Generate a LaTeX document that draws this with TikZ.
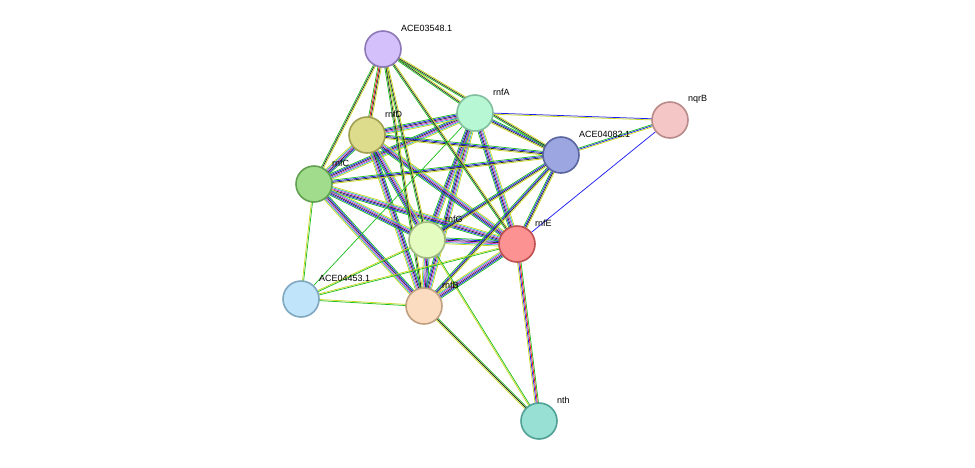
\documentclass[tikz,border=0pt]{standalone}
\usepackage{fontspec}
\setmainfont{Liberation Sans}
\usetikzlibrary{calc}
\pgfdeclarelayer{bg}\pgfsetlayers{bg,main}
\definecolor{tgreen}{HTML}{22C022}
\definecolor{tred}{HTML}{F01010}
\definecolor{tblue}{HTML}{2020F0}
\definecolor{tblack}{HTML}{303030}
\definecolor{tmag}{HTML}{D030D0}
\definecolor{tcyan}{HTML}{30B0D0}
\definecolor{tyel}{HTML}{C8D820}
\tikzset{
 prot/.style={circle,minimum size=36pt,inner sep=0pt,line width=1.6pt},
 lab/.style={anchor=west,font=\fontsize{9}{10}\selectfont,inner sep=0pt}
}
\newcommand\sedge[4]{%
 \foreach \c [count=\i] in {#4} {%
  \pgfmathsetmacro\dd{(\i-(#3+1)/2)*1.15}%
  \draw[\c, line width=0.75pt] ($(#1)!\dd pt!90:(#2)$) -- ($(#2)!\dd pt!-90:(#1)$);
 }}
\begin{document}
\begin{tikzpicture}[x=1pt,y=-1pt]
\useasboundingbox (0,0) rectangle (975,467);
\node[prot,fill={rgb,255:red,212;green,192;blue,250},draw={rgb,255:red,142;green,120;blue,184}] (a35) at (383,49) {};
\node[prot,fill={rgb,255:red,184;green,247;blue,212},draw={rgb,255:red,127;green,191;blue,157}] (rA) at (475,113) {};
\node[prot,fill={rgb,255:red,245;green,198;blue,198},draw={rgb,255:red,184;green,138;blue,138}] (nq) at (670,120) {};
\node[prot,fill={rgb,255:red,220;green,220;blue,140},draw={rgb,255:red,160;green,160;blue,80}] (rD) at (367,135) {};
\node[prot,fill={rgb,255:red,156;green,166;blue,224},draw={rgb,255:red,90;green,100;blue,160}] (a40) at (561,155) {};
\node[prot,fill={rgb,255:red,160;green,220;blue,140},draw={rgb,255:red,96;green,160;blue,80}] (rC) at (314,184) {};
\node[prot,fill={rgb,255:red,228;green,252;blue,192},draw={rgb,255:red,160;green,184;blue,128}] (rG) at (427,240) {};
\node[prot,fill={rgb,255:red,252;green,146;blue,146},draw={rgb,255:red,192;green,80;blue,80}] (rE) at (517,244) {};
\node[prot,fill={rgb,255:red,192;green,228;blue,250},draw={rgb,255:red,128;green,168;blue,192}] (a44) at (301,299) {};
\node[prot,fill={rgb,255:red,252;green,220;blue,192},draw={rgb,255:red,192;green,160;blue,128}] (rB) at (424,306) {};
\node[prot,fill={rgb,255:red,152;green,224;blue,212},draw={rgb,255:red,80;green,160;blue,150}] (nth) at (539,421) {};
\foreach \n/\t in {a35/ACE03548.1,rA/rnfA,nq/nqrB,rD/rnfD,a40/ACE04082.1,rC/rnfC,rG/rnfG,rE/rnfE,a44/ACE04453.1,rB/rnfB,nth/nth}
 \node[lab] (l\n) at ([shift={(18,-21)}]\n.center) {\t};
\begin{pgfonlayer}{bg}
\foreach \p/\q in {rA/rB,rA/rC,rA/rD,rA/rE,rA/rG,rB/rC,rB/rD,rB/rE,rB/rG,rC/rD,rC/rE,rC/rG,rD/rE,rD/rG,rE/rG}
 \sedge{\p}{\q}{6}{tgreen,tblue,tblack,tmag,tcyan,tyel};
\foreach \q in {rA,rD,rC,rG,rE,rB}
 \sedge{a40}{\q}{4}{tgreen,tblue,tblack,tyel};
\foreach \q in {rA,rC,rG,rE,rB,a40}
 \sedge{a35}{\q}{3}{tgreen,tblack,tyel};
\sedge{a35}{rD}{4}{tgreen,tred,tblack,tyel};
\sedge{nq}{rA}{2}{tblue,tyel};
\sedge{nq}{a40}{3}{tgreen,tblue,tyel};
\sedge{nq}{rE}{1}{tblue};
\foreach \q in {rC,rB,rG,rE}
 \sedge{a44}{\q}{2}{tgreen,tyel};
\sedge{a44}{rA}{1}{tgreen};
\sedge{nth}{rE}{4}{tgreen,tred,tblue,tyel};
\sedge{nth}{rB}{3}{tgreen,tblack,tyel};
\sedge{nth}{rG}{2}{tgreen,tyel};
\end{pgfonlayer}
\end{tikzpicture}
\end{document}
